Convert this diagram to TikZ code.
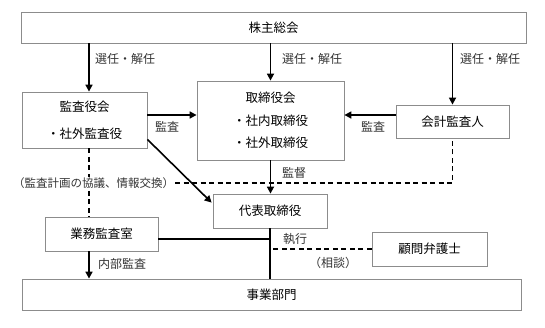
\documentclass[tikz,border=0pt]{standalone}
\usepackage{fontspec}
\setmainfont{Noto Sans CJK JP}
\usetikzlibrary{arrows.meta}

\begin{document}
\begin{tikzpicture}
  [x=1pt, y=-1pt,
   box/.style={draw=black!45, line width=0.8pt, fill=white, inner sep=0pt, font=\fontsize{12.5}{14}\selectfont},
   lbl/.style={text=black!80, inner sep=1pt, font=\fontsize{12}{13}\selectfont},
   arr/.style={draw=black, line width=1.6pt, -{Triangle[length=7pt,width=7pt]}},
   lnk/.style={draw=black, line width=1.6pt},
   dsh/.style={draw=black, line width=1.6pt, dash pattern=on 5pt off 3.5pt}]

  \useasboundingbox (0,0) rectangle (545,327);

  \node[box, minimum width=505pt, minimum height=31pt] (gm) at (273.5,27.5) {株主総会};
  \node[box, minimum width=125pt, minimum height=56pt, align=center, font=\fontsize{12.5}{27}\selectfont] (kansa) at (84.5,120) {監査役会\\・社外監査役};
  \node[box, minimum width=147pt, minimum height=79pt, align=center, font=\fontsize{12.5}{22.5}\selectfont] (board) at (270.5,120.5) {取締役会\\・社内取締役\\・社外取締役};
  \node[box, minimum width=113pt, minimum height=33pt] (audit) at (452.5,121.5) {会計監査人};
  \node[box, minimum width=114pt, minimum height=34pt] (ceo) at (270,211) {代表取締役};
  \node[box, minimum width=113pt, minimum height=34pt] (gyomu) at (101.5,234) {業務監査室};
  \node[box, minimum width=115pt, minimum height=34pt] (lawyer) at (429.5,249) {顧問弁護士};
  \node[box, minimum width=499pt, minimum height=31pt] (jigyo) at (271.5,294.5) {事業部門};

  \coordinate (ax) at (89,0);

  % dashed links
  \draw[dsh] (ax |- kansa.south) -- (ax |- gyomu.north);
  \node[lbl, fill=white, font=\fontsize{11.5}{13}\selectfont] (info) at (93.5,183) {（監査計画の協議、情報交換）};
  \draw[dsh] (info.east) -- (info.east -| audit.south) -- (audit.south);
  \draw[dsh] (lawyer.west) -- (lawyer.west -| ceo.south);

  % arrows
  \draw[arr] (ax |- gm.south) -- (ax |- kansa.north);
  \foreach \to in {board, audit}
    \draw[arr] (gm.south -| \to.north) -- (\to.north);
  \draw[arr] ([yshift=5pt]kansa.east) -- ([yshift=5pt]kansa.east -| board.west);
  \draw[arr] ([yshift=6.5pt]audit.west) -- ([yshift=6.5pt]audit.west -| board.east);
  \draw[arr] ([yshift=9pt]kansa.south east) -- ([yshift=-9pt,xshift=-1pt]ceo.north west);
  \draw[arr] (board.south) -- (board.south |- ceo.north);
  \draw[arr] (ax |- gyomu.south) -- (ax |- jigyo.north);
  \draw[lnk] (ceo.south) -- (ceo.south |- jigyo.north);
  \draw[lnk] ([yshift=-5pt]gyomu.east) -- ([yshift=-5pt]gyomu.east -| ceo.south);

  % labels
  \node[lbl, anchor=west] (l1) at (94,59) {選任・解任};
  \node[lbl, anchor=west] (l2) at (281,59) {選任・解任};
  \node[lbl, anchor=west] (l3) at (459,59) {選任・解任};
  \node[lbl] (l4) at (167,127) {監査};
  \node[lbl] (l5) at (373,127) {監査};
  \node[lbl] (l6) at (294,173) {監督};
  \node[lbl] (l7) at (295,239) {執行};
  \node[lbl] (l8) at (333,263) {（相談）};
  \node[lbl] (l9) at (122,264) {内部監査};
\end{tikzpicture}
\end{document}
